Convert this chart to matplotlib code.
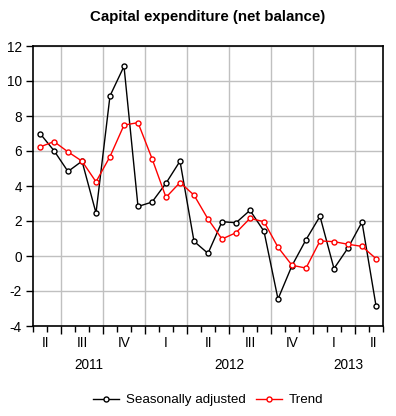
import numpy as np
import matplotlib
matplotlib.use("Agg")
import matplotlib.pyplot as plt
from matplotlib.ticker import FixedLocator, NullFormatter

plt.rcParams['font.family'] = ['Liberation Sans', 'DejaVu Sans']

months = ["2011-05", "2011-06", "2011-07", "2011-08", "2011-09", "2011-10", "2011-11", "2011-12",
          "2012-01", "2012-02", "2012-03", "2012-04", "2012-05", "2012-06", "2012-07", "2012-08",
          "2012-09", "2012-10", "2012-11", "2012-12", "2013-01", "2013-02", "2013-03", "2013-04",
          "2013-05"]
seasonally_adjusted = [7.0, 6.02, 4.83, 5.42, 2.46, 9.15, 10.84, 2.83, 3.08, 4.16, 5.42, 0.84,
                       0.15, 1.96, 1.90, 2.61, 1.41, -2.46, -0.55, 0.93, 2.27, -0.72, 0.46, 1.94, -2.84]
trend = [6.23, 6.54, 5.95, 5.42, 4.24, 5.68, 7.48, 7.62, 5.57, 3.35, 4.20, 3.48, 2.11, 0.97,
         1.33, 2.15, 1.96, 0.50, -0.53, -0.69, 0.86, 0.82, 0.67, 0.55, -0.15]
quarter_labels = ["II", "III", "IV", "I", "II", "III", "IV", "I", "II"]
year_labels = ["2011", "2012", "2013"]
y_ticks = [-4, -2, 0, 2, 4, 6, 8, 10, 12]

x = np.arange(len(months))
mon = [int(m.split("-")[1]) for m in months]

FS = 9.8

fig = plt.figure(figsize=(3.96, 4.16), dpi=100)
ax = fig.add_axes([33/396, 1-326/416, 350/396, 280/416])

ax.plot(x, seasonally_adjusted, color='black', lw=1.0, marker='o', ms=3.6,
        mfc='white', mec='black', mew=1.0, label='Seasonally adjusted', zorder=3)
ax.plot(x, trend, color='#ff0000', lw=1.0, marker='o', ms=3.6,
        mfc='white', mec='#ff0000', mew=1.0, label='Trend', zorder=4)

ax.set_xlim(-0.5, len(months) - 0.5)
ax.set_ylim(-4, 12)

# quarter boundaries
qb = [i - 0.5 for i in range(1, len(months)) if mon[i] in (1, 4, 7, 10)]
edges = [-0.5] + qb + [len(months) - 0.5]
ax.xaxis.set_major_locator(FixedLocator(qb))
ax.xaxis.set_minor_locator(FixedLocator(list(np.arange(-0.5, len(months), 1.0))))
ax.xaxis.set_major_formatter(NullFormatter())
ax.tick_params(axis='x', which='major', length=6, width=1, direction='out', color='black')
ax.tick_params(axis='x', which='minor', length=4, width=1, direction='out', color='black')
ax.set_yticks(y_ticks)
ax.set_yticklabels([str(v) for v in y_ticks])
ax.tick_params(axis='y', length=5, width=1, direction='out', labelsize=FS, pad=3)

ax.grid(True, which='major', color='#c0c0c0', lw=1.0)
ax.set_axisbelow(True)
for s in ax.spines.values():
    s.set_linewidth(1.2)
    s.set_color('black')

# quarter labels
centers = [(edges[k] + edges[k + 1]) / 2 for k in range(len(edges) - 1)]
centers[0] = 0.39
centers[-1] = 23.8
for c, lab in zip(centers, quarter_labels):
    ax.text(c, -0.06, lab, transform=ax.get_xaxis_transform(), ha='center', va='center', fontsize=FS)

# year labels
ybounds = [-0.5] + [i - 0.5 for i in range(1, len(months)) if mon[i] == 1] + [len(months) - 0.5]
for k, lab in enumerate(year_labels):
    c = (ybounds[k] + ybounds[k + 1]) / 2
    ax.text(c, -0.14, lab, transform=ax.get_xaxis_transform(), ha='center', va='center', fontsize=FS)

fig.text(208/396, 1-17/416, "Capital expenditure (net balance)", ha='center', va='center',
         fontsize=10.8, fontweight='bold')

fig.legend(loc='center', bbox_to_anchor=(208/396, 1-400/416), ncol=2, frameon=False,
           fontsize=9.6, handlelength=1.95, handletextpad=0.5, columnspacing=0.75, numpoints=1,
           borderaxespad=0)

fig.savefig("out.png", dpi=100)
